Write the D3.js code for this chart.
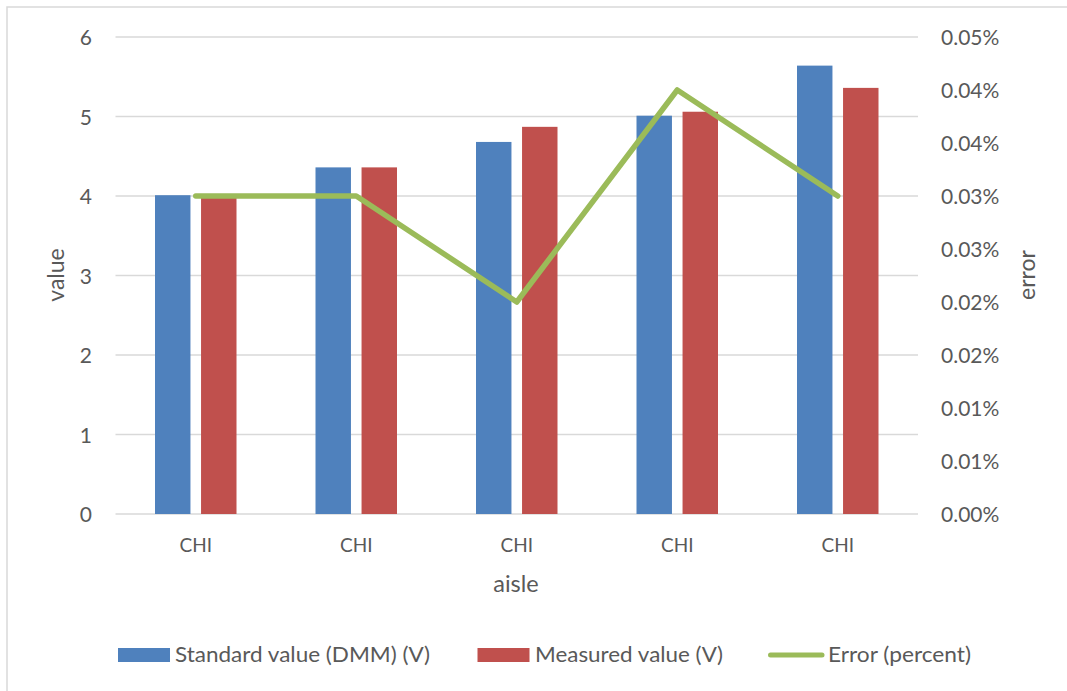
<!DOCTYPE html>
<html>
<head>
<meta charset="utf-8">
<script src="https://cdn.jsdelivr.net/npm/d3@7"></script>
<style>
  html, body { margin: 0; padding: 0; background: #fff; overflow: hidden; }
  svg { display: block; }
  svg text { font-family: Lato, "Open Sans", sans-serif; fill: #595959; }
</style>
</head>
<body>
<svg id="chart" width="1067" height="691"></svg>
<script>
const categories = ["CHI", "CHI", "CHI", "CHI", "CHI"];
const standardValues = [4.01, 4.36, 4.68, 5.01, 5.64];
const measuredValues = [3.98, 4.36, 4.87, 5.06, 5.36];
const errorValues = [0.0003, 0.0003, 0.0002, 0.0004, 0.0003];
const leftTicks = [0, 1, 2, 3, 4, 5, 6];
const rightTicks = [0, 0.00005, 0.0001, 0.00015, 0.0002, 0.00025, 0.0003, 0.00035, 0.0004, 0.00045];
const rightTickLabels = ["0.00%", "0.01%", "0.01%", "0.02%", "0.02%", "0.03%", "0.03%", "0.04%", "0.04%", "0.05%"];
const seriesNames = ["Standard value (DMM) (V)", "Measured value (V)", "Error (percent)"];
const colors = ["#4F81BD", "#C0504D", "#9BBB59"];

const svg = d3.select("#chart");
const plot = { left: 115.5, right: 918, top: 37, bottom: 514 };

// frame
svg.append("rect").attr("x", 7).attr("y", 7).attr("width", 1100).attr("height", 720)
  .attr("fill", "none").attr("stroke", "#D9D9D9").attr("stroke-width", 1.5);

const x0 = d3.scaleBand().domain(d3.range(categories.length)).range([plot.left, plot.right]).padding(0);
const x1 = d3.scaleBand().domain([0, 1]).range([39.5, 121]).paddingInner(0.23).paddingOuter(0);
const yL = d3.scaleLinear().domain([0, 6]).range([plot.bottom, plot.top]);
const yR = d3.scaleLinear().domain([0, 0.00045]).range([plot.bottom, plot.top]);

// gridlines
svg.append("g").selectAll("line").data(leftTicks).join("line")
  .attr("x1", plot.left).attr("x2", plot.right)
  .attr("y1", d => yL(d)).attr("y2", d => yL(d))
  .attr("stroke", "#D9D9D9").attr("stroke-width", 1.3);

// left axis labels
const leftAxis = d3.axisLeft(yL).tickValues(leftTicks).tickSize(0).tickPadding(0).tickFormat(d3.format("d"));
const gl = svg.append("g").attr("transform", "translate(92,0)").call(leftAxis);
gl.select(".domain").remove();
gl.selectAll("text").attr("font-size", 21).attr("font-family", "Lato").attr("fill", "#595959").attr("dy", "0.36em").attr("x", 0);

// right axis labels
const rightAxis = d3.axisRight(yR).tickValues(rightTicks).tickSize(0).tickPadding(0)
  .tickFormat((d, i) => rightTickLabels[i]);
const gr = svg.append("g").attr("transform", "translate(941,0)").call(rightAxis);
gr.select(".domain").remove();
gr.selectAll("text").attr("font-size", 21).attr("font-family", "Lato").attr("fill", "#595959").attr("dy", "0.36em").attr("x", 0);

// bars
const groups = svg.append("g").selectAll("g").data(categories.map((c, i) => i)).join("g")
  .attr("transform", i => `translate(${x0(i)},0)`);
groups.selectAll("rect").data(i => [standardValues[i], measuredValues[i]]).join("rect")
  .attr("x", (d, j) => x1(j)).attr("width", x1.bandwidth())
  .attr("y", d => yL(d)).attr("height", d => yL(0) - yL(d))
  .attr("fill", (d, j) => colors[j]);

// line
const line = d3.line().x((d, i) => x0(i) + x0.bandwidth() / 2).y(d => yR(d));
svg.append("path").datum(errorValues).attr("d", line)
  .attr("fill", "none").attr("stroke", colors[2]).attr("stroke-width", 5.5)
  .attr("stroke-linecap", "round").attr("stroke-linejoin", "round");

// category labels
const bottomAxis = d3.axisBottom(x0).tickSize(0).tickPadding(0).tickFormat(i => categories[i]);
const gb = svg.append("g").attr("transform", "translate(0,552)").call(bottomAxis);
gb.select(".domain").remove();
gb.selectAll("text").attr("font-size", 19).attr("font-family", "Lato").attr("fill", "#595959").attr("dy", 0).attr("y", 0);

// axis titles
svg.append("text").attr("x", 516).attr("y", 592).attr("text-anchor", "middle").attr("font-size", 23.5).text("aisle");
svg.append("text").attr("transform", "translate(64,275) rotate(-90)").attr("text-anchor", "middle").attr("font-size", 23).text("value");
svg.append("text").attr("transform", "translate(1035,275) rotate(-90)").attr("text-anchor", "middle").attr("font-size", 23).text("error");

// legend
const legendX = [118, 477.5, 768];
const legendTextX = [175, 535, 828];
const legendTextW = [255, 188, 143];
const lg = svg.append("g");
seriesNames.forEach((name, i) => {
  if (i < 2) {
    lg.append("rect").attr("x", legendX[i]).attr("y", 648).attr("width", 52).attr("height", 14).attr("fill", colors[i]);
  } else {
    lg.append("line").attr("x1", legendX[i] + 2.5).attr("x2", legendX[i] + 54).attr("y1", 655).attr("y2", 655)
      .attr("stroke", colors[i]).attr("stroke-width", 5).attr("stroke-linecap", "round");
  }
  lg.append("text").attr("x", legendTextX[i]).attr("y", 662).attr("font-size", 21.5)
    .attr("textLength", legendTextW[i]).attr("lengthAdjust", "spacingAndGlyphs").text(name);
});
</script>
</body>
</html>
